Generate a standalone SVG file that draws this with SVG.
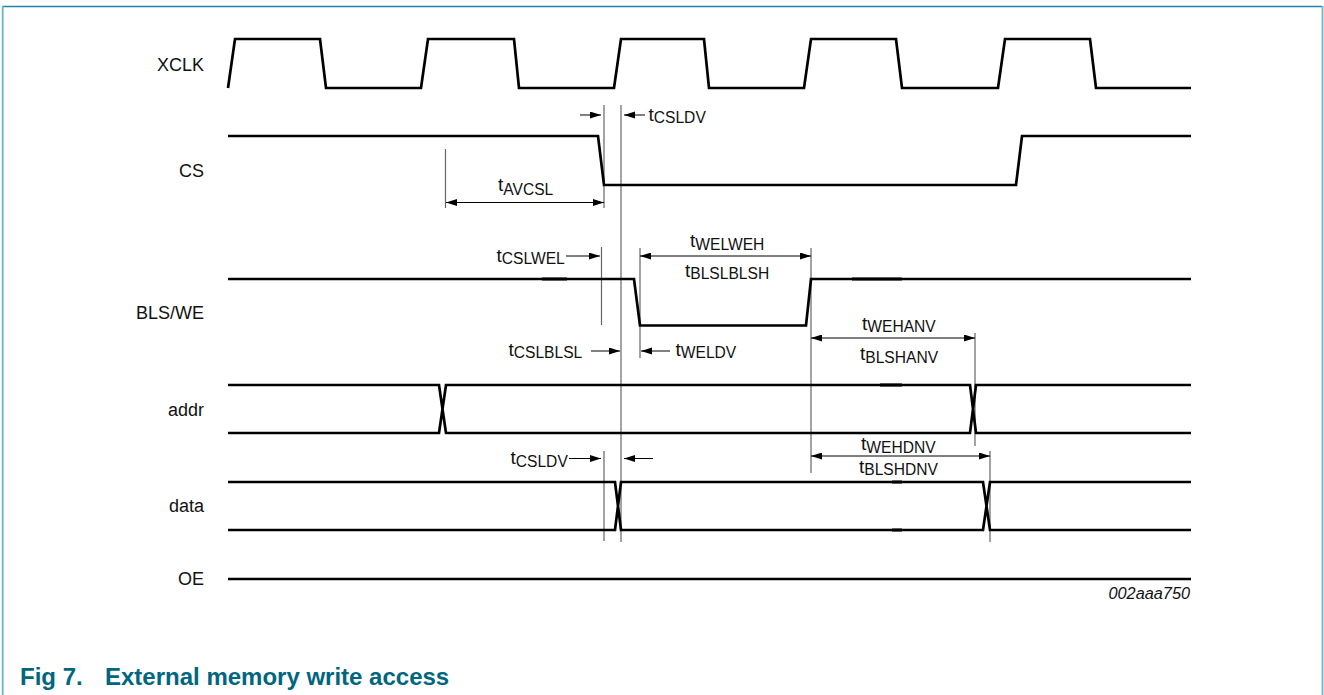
<svg xmlns="http://www.w3.org/2000/svg" width="1324" height="695" viewBox="0 0 1324 695">
<style>
text{font-family:"Liberation Sans",Arial,sans-serif;fill:#111}
.lbl{font-size:18px;text-anchor:end}
.t{font-size:19px}
.s{font-size:15.6px}
.sig{fill:none;stroke:#000;stroke-width:2.7;stroke-linejoin:miter}
.bump{fill:none;stroke:#000;stroke-width:3.1}
.ref{stroke:#666;stroke-width:1.2;fill:none}
.dim{stroke:#000;stroke-width:1;fill:none}
.da{marker-end:url(#a)}
.dd{marker-start:url(#b);marker-end:url(#a)}
</style>
<defs>
<marker id="a" markerUnits="userSpaceOnUse" markerWidth="12" markerHeight="8" refX="11" refY="3.500" orient="auto"><path d="M0 0L11 3.500L0 7Z" fill="#000"/></marker>
<marker id="b" markerUnits="userSpaceOnUse" markerWidth="12" markerHeight="8" refX="0" refY="3.500" orient="auto"><path d="M11 0L0 3.500L11 7Z" fill="#000"/></marker>
</defs>
<rect id="background" width="1324" height="695" fill="#fff"/>
<path id="frame-top" d="M2.500 6.500H1322" fill="none" stroke="#1d86a6" stroke-width="1.300"/>
<path id="frame-sides" d="M2.700 6V695M1322.500 6V695" fill="none" stroke="#6fb4c8" stroke-width="1.800"/>
<g id="refs">
<path class="ref" d="M604 105V208M621 105V542M601.500 247V325M640 248V358M811 248V473M445.500 149V208M975 333V446M990 451V542M604 451V541"/>
</g>
<g id="connectors">
<path class="dim da" d="M580 115H601"/>
<path class="dim da" d="M645 115H624"/>
<path class="dim dd" d="M446 202.500H604"/>
<path class="dim da" d="M566 256H600"/>
<path class="dim dd" d="M640 256H811"/>
<path class="dim da" d="M591 351H620"/>
<path class="dim da" d="M670 351H641"/>
<path class="dim dd" d="M811 338H975"/>
<path class="dim dd" d="M811 456H990"/>
<path class="dim da" d="M569 458.500H601"/>
<path class="dim da" d="M653 458.500H624"/>
</g>
<g id="XCLK"><text class="lbl" x="204" y="70.500">XCLK</text>
<path class="sig" d="M228 88L235 39H320L326 88H421L428 39H514L519 88H614L621 39H704L709 88H804L811 39H896L902 88H998L1005 39H1090L1096 88H1191"/></g>
<g id="CS"><text class="lbl" x="204" y="177">CS</text>
<path class="sig" d="M228 136H598L604 185H1016L1022 136H1191"/></g>
<g id="BLSWE"><text class="lbl" x="204" y="319">BLS/WE</text>
<path class="sig" d="M228 279H634L640 325.500H806L811 279H1191"/><path class="bump" d="M542 279H567M852 279H902"/></g>
<g id="addr"><text class="lbl" x="204" y="416">addr</text>
<path class="sig" d="M228 385H439L446 433H970L976 385H1191M228 433H439L446 385H970L976 433H1191"/><path class="bump" d="M880 385H902"/></g>
<g id="data"><text class="lbl" x="204" y="512">data</text>
<path class="sig" d="M228 482H615L621 530H983L990 482H1191M228 530H615L621 482H983L990 530H1191"/><path class="bump" d="M892 482H902M892 530H902"/></g>
<g id="OE"><text class="lbl" x="204" y="585">OE</text>
<path class="sig" d="M228 579H1191"/></g>
<g id="timing">
<text class="t" x="648.500" y="121">t<tspan class="s" dy="2">CSLDV</tspan></text>
<text class="t" x="498" y="191">t<tspan class="s" dy="4">AVCSL</tspan></text>
<text class="t" x="496.500" y="261.500">t<tspan class="s" dy="2">CSLWEL</tspan></text>
<text class="t" x="690" y="247">t<tspan class="s" dy="2.500">WELWEH</tspan></text>
<text class="t" x="685" y="276.500">t<tspan class="s" dy="2">BLSLBLSH</tspan></text>
<text class="t" x="508.500" y="355.500">t<tspan class="s" dy="2">CSLBLSL</tspan></text>
<text class="t" x="675.500" y="355.500">t<tspan class="s" dy="2">WELDV</tspan></text>
<text class="t" x="862" y="329.500">t<tspan class="s" dy="2">WEHANV</tspan></text>
<text class="t" x="860" y="360">t<tspan class="s" dy="3">BLSHANV</tspan></text>
<text class="t" x="861" y="450">t<tspan class="s" dy="2.500">WEHDNV</tspan></text>
<text class="t" x="859" y="472.500">t<tspan class="s" dy="2.500">BLSHDNV</tspan></text>
<text class="t" x="510.500" y="464">t<tspan class="s" dy="3">CSLDV</tspan></text>
</g>
<text x="1190" y="599" font-size="16.300" font-style="italic" text-anchor="end">002aaa750</text>
<g id="caption" style="font-weight:bold;font-size:24px"><text x="20" y="684.500" style="fill:#00667f">Fig 7.</text><text x="105" y="684.500" style="fill:#00667f">External memory write access</text></g>
</svg>
